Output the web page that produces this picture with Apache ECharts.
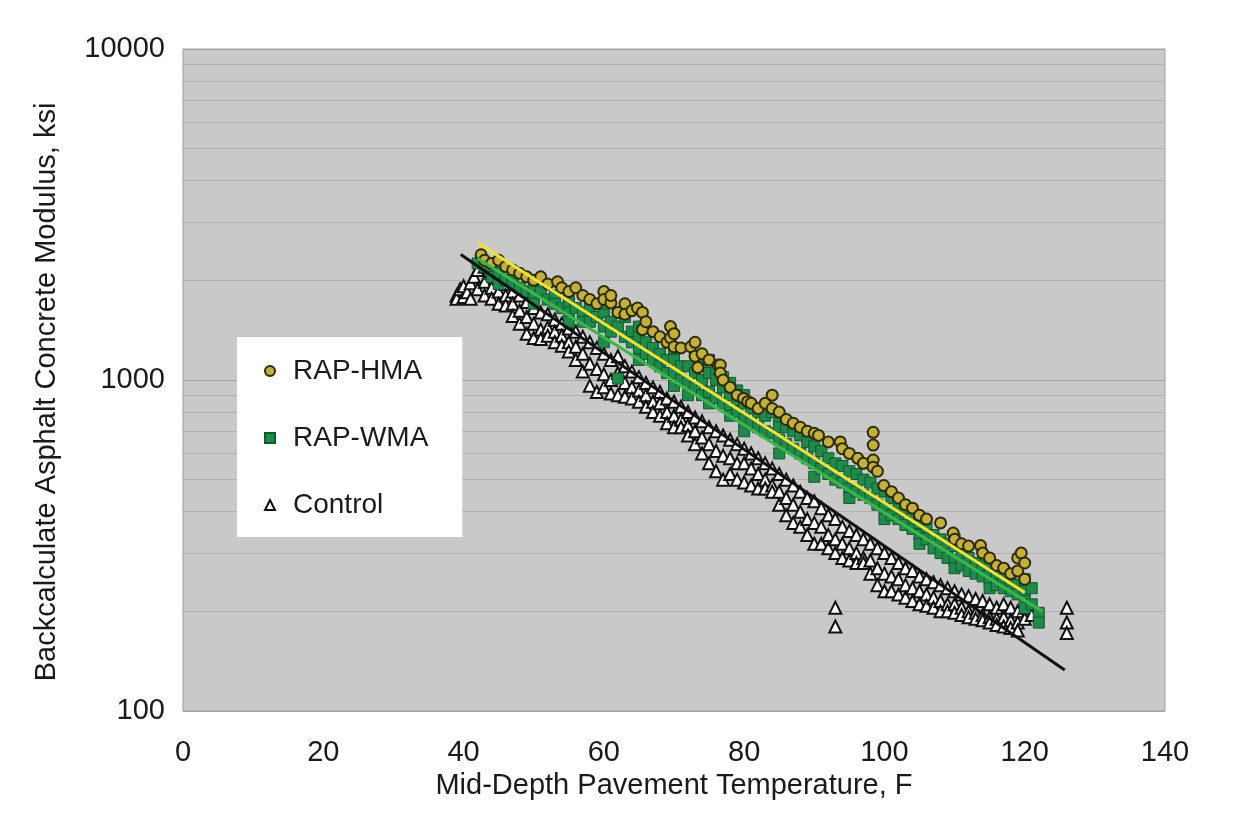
<!DOCTYPE html>
<html>
<head>
<meta charset="utf-8">
<script src="https://cdn.jsdelivr.net/npm/echarts@6/dist/echarts.min.js"></script>
<style>
html,body{margin:0;padding:0;background:#fff;}
#chart{width:1237px;height:839px;}
</style>
</head>
<body>
<div id="chart"></div>
<script>
// ---- data (temperature F, modulus ksi) ----
const xTicks = [0, 20, 40, 60, 80, 100, 120, 140];
const yMajor = [100, 1000, 10000];
const yMinorGrid = [200,300,400,500,600,700,800,900,2000,3000,4000,5000,6000,7000,8000,9000];

const controlPoints = [
[39,1800],[39,1760],[39.5,1880],[40,1780],[40,1920],[40.5,1840],[41,1960],[41,1760],[41.5,2050],
[42,2150],[42,1880],[43,2200],[43,1980],[43,1800],[44,2100],[44,1900],[44,1760],[45,2050],[45,1850],[45,1700],
[46,1950],[46,1800],[46,1680],[47,1850],[47,1700],[47,1560],[48,1800],[48,1620],[48,1480],[49,1720],[49,1550],[49,1380],
[50,1650],[50,1480],[50,1340],[51,1600],[51,1420],[51,1330],[52,1580],[52,1440],[52,1360],[53,1520],[53,1400],[53,1300],
[54,1480],[54,1360],[54,1270],[55,1430],[55,1300],[55,1220],[56,1400],[56,1260],[56,1150],[57,1350],[57,1200],[57,1060],
[58,1300],[58,1120],[58,960],[59,1250],[59,1080],[59,920],[60,1200],[60,1040],[60,950],[61,1150],[61,1000],[61,910],
[62,1180],[62,1050],[62,900],[63,1100],[63,980],[63,890],[64,1060],[64,950],[64,880],[65,1020],[65,930],[65,860],
[66,980],[66,900],[66,830],[67,950],[67,860],[67,800],[68,920],[68,850],[68,780],[69,880],[69,800],[69,740],
[70,860],[70,780],[70,720],[71,830],[71,760],[71,720],[72,800],[72,730],[72,680],[73,770],[73,700],[73,640],
[74,750],[74,670],[74,600],[75,720],[75,640],[75,560],[76,700],[76,610],[76,530],[77,680],[77,590],[77,500],
[78,660],[78,580],[78,520],[79,640],[79,560],[79,500],[80,620],[80,560],[80,490],[81,600],[81,540],[81,480],
[82,580],[82,520],[82,470],[83,560],[83,500],[83,470],[84,540],[84,480],[84,460],[85,520],[85,460],[85,420],
[86,500],[86,440],[86,390],[87,480],[87,420],[87,370],[88,460],[88,400],[88,360],[89,440],[89,380],[89,340],
[90,430],[90,370],[90,320],[91,410],[91,360],[91,320],[92,390],[92,340],[92,310],[93,380],[93,330],[93,300],[93,205],[93,180],
[94,360],[94,320],[94,290],[95,350],[95,310],[95,285],[96,340],[96,300],[96,280],[97,330],[97,290],[97,280],
[98,320],[98,285],[98,260],[99,310],[99,270],[99,240],[100,300],[100,260],[100,230],[101,290],[101,255],[101,230],
[102,280],[102,250],[102,225],[103,270],[103,240],[103,220],[104,265],[104,235],[104,215],[105,255],[105,230],[105,210],
[106,250],[106,225],[106,208],[107,245],[107,220],[107,205],[108,240],[108,215],[108,200],[109,235],[109,210],[109,200],
[110,230],[110,210],[110,198],[111,225],[111,205],[111,195],[112,222],[112,200],[112,192],[113,218],[113,198],[113,190],
[114,215],[114,195],[114,188],[115,210],[115,192],[115,185],[116,205],[116,190],[116,182],[117,210],[117,192],[117,180],
[118,205],[118,188],[118,178],[119,200],[119,185],[119,175],[120,205],[120,190],[121,195],
[126,205],[126,185],[126,172]
];

const wmaPoints = [
[42,2250],[43,2200],[44,2150],[44,2050],[45,2100],[45,1950],[46,2000],[47,2050],[47,1950],[48,1900],[49,1850],
[50,1800],[50,1900],[50,1700],[51,1850],[52,1750],[53,1800],[53,1700],[54,1650],[55,1700],[55,1600],[55,1500],[55,1800],[56,1650],
[57,1600],[57,1500],[58,1650],[58,1500],[59,1550],[60,1600],[60,1450],[60,1300],[60,1700],[61,1500],[61,1400],[62,1450],[62,1010],
[63,1550],[63,1350],[64,1400],[64,1300],[65,1350],[65,1250],[65,1150],[65,1450],[66,1300],[66,1200],[67,1250],[67,1150],
[68,1200],[68,1100],[69,1150],[69,1050],[70,1150],[70,1050],[70,960],[70,1250],[71,1100],[71,1000],[72,1100],[72,980],[72,900],
[73,1050],[73,950],[74,1000],[74,900],[74,1100],[75,1050],[75,920],[75,850],[75,1150],[76,1000],[76,880],[76,1080],[77,950],[77,850],[77,1020],
[78,900],[78,820],[78,980],[78,780],[79,870],[79,800],[79,930],[80,850],[80,760],[80,900],[80,700],[81,820],[81,740],[82,800],[82,720],[83,780],[83,700],
[84,800],[84,690],[85,740],[85,660],[85,600],[85,720],[86,720],[86,640],[87,700],[87,620],[88,680],[88,600],[89,650],[89,580],
[90,630],[90,560],[90,510],[91,610],[91,540],[92,580],[92,520],[93,560],[93,500],[94,550],[94,490],[95,530],[95,470],[95,440],
[96,520],[96,460],[97,500],[97,450],[98,490],[98,440],[99,470],[99,420],[100,460],[100,410],[100,380],[101,440],[101,390],
[102,420],[102,380],[103,400],[103,365],[104,390],[104,355],[105,370],[105,340],[105,320],[106,360],[106,330],
[107,340],[107,310],[108,330],[108,300],[109,320],[109,290],[110,315],[110,285],[110,270],[110,330],[111,300],[111,275],
[112,290],[112,265],[113,280],[113,260],[114,275],[114,255],[115,265],[115,245],[115,235],[115,280],[116,260],[116,240],
[117,250],[117,235],[118,245],[118,230],[119,240],[119,225],[120,250],[120,230],[120,215],[120,205],[121,235],[121,210],
[122,198],[122,185]
];

const hmaPoints = [
[42.5,2390],[43,2300],[44,2250],[45,2300],[46,2200],[47,2150],[48,2100],[49,2050],[50,2000],[51,2050],
[52,1950],[53.4,1980],[54,1900],[55,1850],[56,1900],[57,1800],[58,1750],[59,1700],[60,1850],[60,1750],
[61,1710],[61,1800],[62,1600],[63,1700],[63,1580],[64,1620],[64.8,1650],[65.5,1420],[65.5,1600],[66,1500],
[67,1400],[68,1350],[69,1300],[69.5,1450],[69.5,1340],[70,1380],[70,1260],[71,1250],[72.4,1260],[73,1300],
[73,1180],[73.4,1090],[74,1200],[75,1150],[76.3,1110],[76.6,1110],[76.6,1050],[77,1000],[78,950],[79,900],
[79.9,880],[80.5,860],[81,850],[82,820],[83,850],[84,900],[84,820],[85,800],[86,760],[87,740],[88,720],
[89,700],[90,690],[90.6,680],[92,650],[93.7,650],[94,620],[95,600],[96.2,580],[97,560],
[98.4,695],[98.4,636],[98.4,573],[98.4,545],[99,530],[99.9,480],[101,460],[102,440],[103,420],[104,410],
[105,390],[106,380],[108,370],[109.8,345],[110,330],[111,320],[112,315],[113.7,316],[114,300],[115,290],
[116,275],[117,270],[118,260],[119,290],[119,265],[119.5,300],[120,280],[120,250]
];

// trend lines (end points)
const hmaTrend = [[42,2600],[120,228]];
const wmaTrend = [[42,2330],[122.5,200]];
const controlTrend = [[39.6,2393],[125.7,133]];

const FONT = '"Liberation Sans", Arial, sans-serif';
const TXT = '#1a1a1a';
const FS = 29;

const chart = echarts.init(document.getElementById('chart'));
chart.setOption({
  animation: false,
  backgroundColor: '#ffffff',
  grid: {
    left: 183, right: 72, top: 49, bottom: 128,
    show: true, backgroundColor: '#c9c9c9', borderColor: '#9e9e9e', borderWidth: 1,
    containLabel: false
  },
  legend: {
    data: ['RAP-HMA', 'RAP-WMA', 'Control'],
    orient: 'vertical',
    left: 237, top: 337,
    backgroundColor: '#ffffff',
    padding: [20, 34, 18, 27],
    itemGap: 39,
    itemWidth: 10, itemHeight: 10,
    textStyle: { fontSize: 28, fontFamily: FONT, color: TXT, lineHeight: 27, padding: [0, 0, 0, 13] }
  },
  xAxis: {
    type: 'value', min: xTicks[0], max: xTicks[xTicks.length - 1], interval: 20,
    name: 'Mid-Depth Pavement Temperature, F',
    nameLocation: 'middle', nameGap: 52,
    nameTextStyle: { fontSize: FS, fontFamily: FONT, color: TXT },
    axisLine: { show: false },
    axisTick: { show: false },
    splitLine: { show: false },
    axisLabel: { fontSize: FS, fontFamily: FONT, color: TXT, margin: 27 }
  },
  yAxis: {
    type: 'log', logBase: 10, min: yMajor[0], max: yMajor[yMajor.length - 1],
    name: 'Backcalculate Asphalt Concrete Modulus, ksi',
    nameLocation: 'middle', nameGap: 122,
    nameTextStyle: { fontSize: FS, fontFamily: FONT, color: TXT, padding: [0, 24, 0, 0] },
    axisLine: { show: false },
    axisTick: { show: false },
    splitLine: { show: true, lineStyle: { color: '#a3a3a3', width: 1 } },
    axisLabel: { fontSize: FS, fontFamily: FONT, color: TXT, margin: 18, formatter: v => String(Math.round(v)) }
  },
  series: [
    {
      name: 'Control', type: 'scatter', data: controlPoints,
      symbol: 'triangle', symbolSize: 12,
      itemStyle: { color: '#ffffff', borderColor: '#111111', borderWidth: 2, opacity: 1 },
      markLine: {
        silent: true, symbol: ['none', 'none'], z: 1,
        label: { show: false },
        lineStyle: { color: '#b0b0b0', width: 1, type: 'solid' },
        data: yMinorGrid.map(v => ({ yAxis: v }))
      }
    },
    {
      name: 'RAP-WMA', type: 'scatter', data: wmaPoints,
      symbol: 'rect', symbolSize: 11,
      itemStyle: { color: '#1f8a4c', borderColor: '#0f5a2c', borderWidth: 1, opacity: 1 }
    },
    {
      name: 'RAP-HMA', type: 'scatter', data: hmaPoints,
      symbol: 'circle', symbolSize: 11,
      itemStyle: { color: '#c2b03a', borderColor: '#2e2a08', borderWidth: 2, opacity: 1 }
    },
    {
      name: 'Control fit', type: 'line', data: controlTrend, symbol: 'none',
      lineStyle: { color: '#111111', width: 3 }, z: 5
    },
    {
      name: 'WMA fit', type: 'line', data: wmaTrend, symbol: 'none',
      lineStyle: { color: '#3cb648', width: 3 }, z: 5
    },
    {
      name: 'HMA fit', type: 'line', data: hmaTrend, symbol: 'none',
      lineStyle: { color: '#f2e234', width: 3 }, z: 5
    }
  ]
});
</script>
</body>
</html>
